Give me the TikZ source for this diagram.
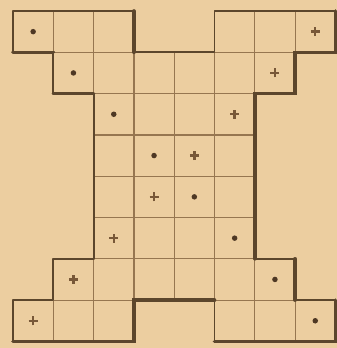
\documentclass[tikz,border=0pt]{standalone}
\usetikzlibrary{calc}
\definecolor{paper}{RGB}{236,206,160}
\definecolor{ink}{RGB}{92,70,44}
\definecolor{gridink}{RGB}{150,118,80}
\definecolor{dotink}{RGB}{78,56,36}
\definecolor{plusink}{RGB}{120,88,56}
\tikzset{
  gridline/.style={draw=gridink, line width=1.2pt},
  outline/.style={draw=ink, line width=1.8pt, line join=round, line cap=round},
  shade/.style={draw=ink, line width=3.6pt, line cap=round},
  dotmark/.style={circle, fill=dotink, inner sep=0pt, minimum size=5.5pt},
  plusmark/.style={draw=plusink, line width=2.4pt},
}
\begin{document}
\begin{tikzpicture}[x=1pt,y=-1pt]
\fill[paper] (0,0) rectangle (337,348);
\useasboundingbox (0,0) rectangle (337,348);
\begin{scope}[xshift=13pt, yshift=-11pt, x=40.3pt, y=-41.3pt]
  \begin{scope}
    \clip (0,0) -- (3,0) -- (3,1) -- (5,1) -- (5,0) -- (8,0) -- (8,1) -- (7,1) -- (7,2) -- (6,2) -- (6,6) -- (7,6) -- (7,7) -- (8,7) -- (8,8) -- (5,8) -- (5,7) -- (3,7) -- (3,8) -- (0,8) -- (0,7) -- (1,7) -- (1,6) -- (2,6) -- (2,2) -- (1,2) -- (1,1) -- (0,1) -- cycle;
    \foreach \k in {1,...,7} {
      \draw[gridline] (\k,0) -- (\k,8);
      \draw[gridline] (0,\k) -- (8,\k);
    }
  \end{scope}
  \draw[outline] (0,0) -- (3,0) -- (3,1) -- (5,1) -- (5,0) -- (8,0) -- (8,1) -- (7,1) -- (7,2) -- (6,2) -- (6,6) -- (7,6) -- (7,7) -- (8,7) -- (8,8) -- (5,8) -- (5,7) -- (3,7) -- (3,8) -- (0,8) -- (0,7) -- (1,7) -- (1,6) -- (2,6) -- (2,2) -- (1,2) -- (1,1) -- (0,1) -- cycle;
  % shadowed edges (bottom and right sides)
  \draw[shade] (3,0) -- (3,1);
  \draw[shade] (8,0) -- (8,1) -- (7,1) -- (7,2) -- (6,2) -- (6,6);
  \draw[shade] (7,6) -- (7,7);
  \draw[shade] (8,7) -- (8,8) -- (5,8);
  \draw[shade] (5,7) -- (3,7) -- (3,8) -- (0,8);
  \draw[shade] (2,2) -- (1,2);
  \draw[shade] (1,1) -- (0,1);
  % marks
  \foreach \i in {0,...,7} {
    \node[dotmark] (d\i) at (\i+0.5,\i+0.5) {};
    \draw[plusmark] ($(7-\i+0.5,\i+0.5)+(-4.5pt,0)$) -- ++(9pt,0);
    \draw[plusmark] ($(7-\i+0.5,\i+0.5)+(0,-4.5pt)$) -- ++(0,9pt);
  }
\end{scope}
\end{tikzpicture}
\end{document}
